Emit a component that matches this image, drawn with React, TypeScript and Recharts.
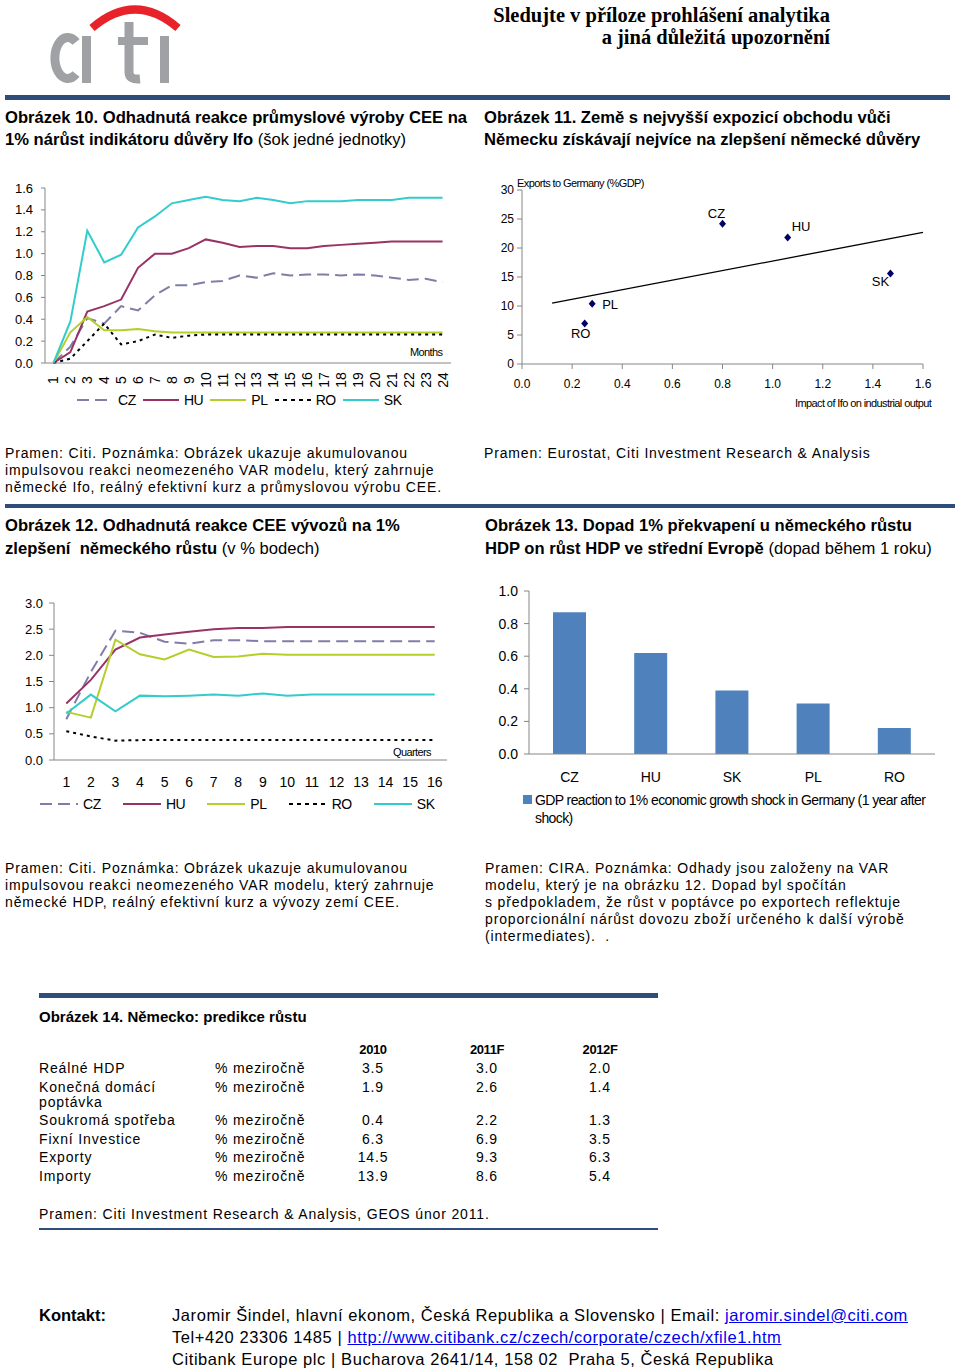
import React from 'react';
import { LineChart, Line, XAxis, YAxis, ScatterChart, Scatter, BarChart, Bar } from 'recharts';

const FONT = '"Liberation Sans", Arial, sans-serif';
const AXIS = '#868686';
const RULE = '#2E4D7B';

// Obrázek 10 – months 1..24
const months = [1, 2, 3, 4, 5, 6, 7, 8, 9, 10, 11, 12, 13, 14, 15, 16, 17, 18, 19, 20, 21, 22, 23, 24];
const cz10 = [0, 0.15, 0.41, 0.36, 0.52, 0.48, 0.62, 0.71, 0.71, 0.74, 0.75, 0.8, 0.78, 0.82, 0.8, 0.81, 0.81, 0.8, 0.81, 0.8, 0.78, 0.76, 0.77, 0.74];
const hu10 = [0, 0.1, 0.47, 0.52, 0.58, 0.87, 1.0, 1.0, 1.05, 1.13, 1.1, 1.06, 1.07, 1.07, 1.05, 1.05, 1.07, 1.08, 1.09, 1.1, 1.11, 1.11, 1.11, 1.11];
const pl10 = [0, 0.28, 0.42, 0.3, 0.3, 0.31, 0.29, 0.28, 0.28, 0.28, 0.28, 0.28, 0.28, 0.28, 0.28, 0.28, 0.28, 0.28, 0.28, 0.28, 0.28, 0.28, 0.28, 0.28];
const ro10 = [0, 0.04, 0.2, 0.36, 0.17, 0.2, 0.26, 0.23, 0.25, 0.26, 0.26, 0.26, 0.26, 0.26, 0.26, 0.26, 0.26, 0.26, 0.26, 0.26, 0.26, 0.26, 0.26, 0.26];
const sk10 = [0, 0.38, 1.21, 0.92, 0.99, 1.24, 1.34, 1.46, 1.49, 1.52, 1.49, 1.48, 1.51, 1.49, 1.46, 1.48, 1.48, 1.48, 1.49, 1.49, 1.49, 1.51, 1.51, 1.51];
const yTicks10 = [0, 0.2, 0.4, 0.6, 0.8, 1.0, 1.2, 1.4, 1.6];

// Obrázek 11
const names11 = ['RO', 'PL', 'CZ', 'HU', 'SK'];
const ifo11 = [0.25, 0.28, 0.8, 1.06, 1.47];
const exports11 = [7.0, 10.4, 24.2, 21.8, 15.6];
const trendX11 = [0.12, 1.6];
const trendY11 = [10.5, 22.7];
const xTicks11 = [0, 0.2, 0.4, 0.6, 0.8, 1.0, 1.2, 1.4, 1.6];
const yTicks11 = [0, 5, 10, 15, 20, 25, 30];

// Obrázek 12 – quarters 1..16
const quarters = [1, 2, 3, 4, 5, 6, 7, 8, 9, 10, 11, 12, 13, 14, 15, 16];
const cz12 = [0.78, 1.68, 2.47, 2.43, 2.26, 2.22, 2.29, 2.29, 2.27, 2.27, 2.27, 2.27, 2.27, 2.27, 2.27, 2.27];
const hu12 = [1.08, 1.53, 2.11, 2.34, 2.4, 2.45, 2.5, 2.52, 2.52, 2.54, 2.54, 2.54, 2.54, 2.54, 2.54, 2.54];
const pl12 = [0.92, 0.81, 2.3, 2.02, 1.92, 2.11, 1.97, 1.98, 2.03, 2.01, 2.01, 2.01, 2.01, 2.01, 2.01, 2.01];
const ro12 = [0.55, 0.45, 0.37, 0.38, 0.38, 0.38, 0.38, 0.38, 0.38, 0.38, 0.38, 0.38, 0.38, 0.38, 0.38, 0.38];
const sk12 = [0.89, 1.25, 0.93, 1.23, 1.22, 1.23, 1.25, 1.23, 1.27, 1.23, 1.25, 1.25, 1.25, 1.25, 1.25, 1.25];
const yTicks12 = [0, 0.5, 1.0, 1.5, 2.0, 2.5, 3.0];

// Obrázek 13
const countries13 = ['CZ', 'HU', 'SK', 'PL', 'RO'];
const gdp13 = [0.87, 0.62, 0.39, 0.31, 0.16];
const yTicks13 = [0, 0.2, 0.4, 0.6, 0.8, 1.0];

// Obrázek 14
const tableYears = ['2010', '2011F', '2012F'];
const tableRows = ['Reálné HDP', 'Konečná domácí poptávka', 'Soukromá spotřeba', 'Fixní Investice', 'Exporty', 'Importy'];
const tableUnit = '% meziročně';
const table2010 = ['3.5', '1.9', '0.4', '6.3', '14.5', '13.9'];
const table2011 = ['3.0', '2.6', '2.2', '6.9', '9.3', '8.6'];
const table2012 = ['2.0', '1.4', '1.3', '3.5', '6.3', '5.4'];

const legendKeys = ['CZ', 'HU', 'PL', 'RO', 'SK'];
const lineStyle: Record<string, { color: string; dash?: string }> = {
  CZ: { color: '#7E7EA8', dash: '12 6' },
  HU: { color: '#993366' },
  PL: { color: '#B4CE2C' },
  RO: { color: '#000000', dash: '3 4' },
  SK: { color: '#33CCCC' },
};

const labelPos11: Record<string, { dx: number; dy: number; anchor: 'start' | 'middle' | 'end' }> = {
  RO: { dx: -4, dy: 15, anchor: 'middle' },
  PL: { dx: 10, dy: 5, anchor: 'start' },
  CZ: { dx: -6, dy: -6, anchor: 'middle' },
  HU: { dx: 4, dy: -7, anchor: 'start' },
  SK: { dx: -10, dy: 12, anchor: 'middle' },
};

const data10 = months.map((m, i) => ({ m, CZ: cz10[i], HU: hu10[i], PL: pl10[i], RO: ro10[i], SK: sk10[i] }));
const data12 = quarters.map((q, i) => ({ q, CZ: cz12[i], HU: hu12[i], PL: pl12[i], RO: ro12[i], SK: sk12[i] }));
const points11 = names11.map((name, i) => ({ name, x: ifo11[i], y: exports11[i] }));
const trend11 = trendX11.map((x, i) => ({ x, y: trendY11[i] }));
const data13 = countries13.map((name, i) => ({ name, v: gdp13[i] }));
const grid10 = [0.5, ...months.map((m) => m + 0.5)];
const grid12 = [0.5, ...quarters.map((q) => q + 0.5)];
const grid13 = [0, ...countries13.map((_, i) => i + 1)];

function T({ x, y, size = 14, bold = false, right, ls, children, style }: any) {
  const lh = Math.round(size * 1.2);
  const pos: any = right !== undefined ? { right: 960 - right } : { left: x };
  return (
    <div
      style={{
        position: 'absolute',
        top: y - lh / 2,
        ...pos,
        fontSize: size,
        lineHeight: `${lh}px`,
        fontWeight: bold ? 700 : 400,
        whiteSpace: 'nowrap',
        letterSpacing: ls,
        ...style,
      }}
    >
      {children}
    </div>
  );
}

function Rule({ x, y, w, h, color = RULE }: any) {
  return <div style={{ position: 'absolute', left: x, top: y, width: w, height: h, background: color }} />;
}

function LineLegend({ left, top, gap, lineW }: any) {
  return (
    <div style={{ position: 'absolute', left, top, display: 'flex', alignItems: 'center', gap, fontSize: 14, letterSpacing: -0.4 }}>
      {legendKeys.map((k) => (
        <div key={k} style={{ display: 'flex', alignItems: 'center' }}>
          <svg width={lineW} height={6}>
            <line x1={0} y1={3} x2={lineW} y2={3} stroke={lineStyle[k].color} strokeWidth={2} strokeDasharray={k === 'RO' ? '4 4' : lineStyle[k].dash} />
          </svg>
          <span style={{ marginLeft: 5 }}>{k}</span>
        </div>
      ))}
    </div>
  );
}

function RotTick(props: any) {
  const { x, y, payload } = props;
  const px = x + 5;
  const py = y + 11;
  return (
    <text x={px} y={py} transform={`rotate(-90 ${px} ${py})`} textAnchor="middle" fontSize={14} fill="#000" fontFamily={FONT}>
      {payload.value}
    </text>
  );
}

function Diamond(props: any) {
  const { cx, cy, payload } = props;
  const o = labelPos11[payload.name];
  return (
    <g>
      <path d={`M${cx},${cy - 4}L${cx + 3.5},${cy}L${cx},${cy + 4}L${cx - 3.5},${cy}Z`} fill="#000066" />
      <text x={cx + o.dx} y={cy + o.dy} textAnchor={o.anchor} fontSize={13} fill="#000" fontFamily={FONT}>
        {payload.name}
      </text>
    </g>
  );
}

const tickFont = { fontSize: 13, fill: '#000', fontFamily: FONT };

function Chart10() {
  return (
    <div style={{ position: 'absolute', left: 0, top: 175 }}>
      <LineChart width={470} height={230} data={data10} margin={{ top: 13, right: 19, left: 0, bottom: 0 }}>
        <XAxis xAxisId="g" type="number" domain={[0.5, 24.5]} ticks={grid10} tick={false} axisLine={false} tickLine={{ stroke: AXIS }} tickSize={5} height={0} />
        <XAxis xAxisId="l" dataKey="m" type="number" domain={[0.5, 24.5]} ticks={months} interval={0} tickLine={false} tickSize={4} tickMargin={2} tick={<RotTick />} height={42} axisLine={{ stroke: AXIS }} />
        <YAxis width={45} domain={[0, 1.6]} ticks={yTicks10} tickFormatter={(v: number) => v.toFixed(1)} tickSize={4} tickMargin={8} tick={tickFont} axisLine={{ stroke: AXIS }} tickLine={{ stroke: AXIS }} />
        {legendKeys.map((k) => (
          <Line key={k} xAxisId="l" dataKey={k} type="linear" stroke={lineStyle[k].color} strokeWidth={2} strokeDasharray={lineStyle[k].dash} dot={false} isAnimationActive={false} />
        ))}
      </LineChart>
    </div>
  );
}

function Chart11() {
  return (
    <div style={{ position: 'absolute', left: 470, top: 175 }}>
      <ScatterChart width={480} height={225} margin={{ top: 15, right: 27, left: 0, bottom: 5 }}>
        <XAxis dataKey="x" type="number" domain={[0, 1.6]} ticks={xTicks11} tickFormatter={(v: number) => v.toFixed(1)} tickSize={5} tickMargin={10} height={31} tick={{ ...tickFont, fontSize: 12 }} axisLine={{ stroke: AXIS }} tickLine={{ stroke: AXIS }} />
        <YAxis dataKey="y" type="number" width={52} domain={[0, 30]} ticks={yTicks11} tickSize={5} tickMargin={3} tick={{ ...tickFont, fontSize: 12 }} axisLine={{ stroke: AXIS }} tickLine={{ stroke: AXIS }} />
        <Scatter data={trend11} line={{ stroke: '#000', strokeWidth: 1.3 }} shape={() => <g />} isAnimationActive={false} />
        <Scatter data={points11} shape={<Diamond />} isAnimationActive={false} />
      </ScatterChart>
    </div>
  );
}

function Chart12() {
  return (
    <div style={{ position: 'absolute', left: 0, top: 590 }}>
      <LineChart width={460} height={207} data={data12} margin={{ top: 13, right: 13, left: 0, bottom: 12 }}>
        <XAxis xAxisId="g" type="number" domain={[0.5, 16.5]} ticks={grid12} tick={false} axisLine={false} tickLine={{ stroke: AXIS }} tickSize={6} height={0} />
        <XAxis xAxisId="l" dataKey="q" type="number" domain={[0.5, 16.5]} ticks={quarters} interval={0} tickLine={false} tickSize={6} tickMargin={11} tick={{ ...tickFont, fontSize: 14 }} height={25} axisLine={{ stroke: AXIS }} />
        <YAxis width={54} domain={[0, 3]} ticks={yTicks12} tickFormatter={(v: number) => v.toFixed(1)} tickSize={5} tickMargin={6} tick={tickFont} axisLine={{ stroke: AXIS }} tickLine={{ stroke: AXIS }} />
        {legendKeys.map((k) => (
          <Line key={k} xAxisId="l" dataKey={k} type="linear" stroke={lineStyle[k].color} strokeWidth={2} strokeDasharray={lineStyle[k].dash} dot={false} isAnimationActive={false} />
        ))}
      </LineChart>
    </div>
  );
}

function Chart13() {
  return (
    <div style={{ position: 'absolute', left: 470, top: 580 }}>
      <BarChart width={480} height={210} data={data13} margin={{ top: 11, right: 15, left: 0, bottom: 10 }}>
        <XAxis xAxisId="g" type="number" domain={[0, countries13.length]} allowDataOverflow ticks={grid13} tick={false} axisLine={false} tickLine={{ stroke: AXIS }} tickSize={6} height={0} />
        <XAxis xAxisId="c" dataKey="name" tickLine={false} tickSize={6} tickMargin={12} height={26} tick={{ ...tickFont, fontSize: 14 }} axisLine={{ stroke: AXIS }} />
        <YAxis width={59} domain={[0, 1]} ticks={yTicks13} tickFormatter={(v: number) => v.toFixed(1)} tickSize={5} tickMargin={6} tick={{ ...tickFont, fontSize: 14 }} axisLine={{ stroke: AXIS }} tickLine={{ stroke: AXIS }} />
        <Bar xAxisId="c" dataKey="v" fill="#4F81BD" barSize={33} isAnimationActive={false} />
      </BarChart>
    </div>
  );
}

function CitiLogo() {
  const grey = '#9FA1A4';
  return (
    <svg style={{ position: 'absolute', left: 0, top: 0 }} width={200} height={95}>
      <path d="M76,42 A13,20.5 0 1 0 76,74" fill="none" stroke={grey} strokeWidth={9} />
      <rect x={82} y={36} width={9} height={47} fill={grey} />
      <path d="M129,22 L129,72 Q129,80 140,79" fill="none" stroke={grey} strokeWidth={9} />
      <rect x={118} y={37} width={30} height={8} fill={grey} />
      <rect x={160} y={36} width={9} height={47} fill={grey} />
      <path d="M92,28 Q135,-9 178,28" fill="none" stroke="#E8222A" strokeWidth={8} />
    </svg>
  );
}

export default function App() {
  const body = { size: 14, ls: 0.85 };
  const tblY = [1068, 1087, 1120, 1139, 1157, 1176];
  const colX = [373, 487, 600];
  const link = { color: '#0000EE', textDecoration: 'underline' };
  return (
    <div style={{ position: 'absolute', left: 0, top: 0, width: 960, height: 1372, background: '#fff', fontFamily: FONT, color: '#000', overflow: 'hidden' }}>
      <CitiLogo />
      <T right={830} y={15} size={20.5} bold style={{ fontFamily: '"Liberation Serif", serif' }}>Sledujte v příloze prohlášení analytika</T>
      <T right={830} y={37} size={20.5} bold style={{ fontFamily: '"Liberation Serif", serif' }}>a jiná důležitá upozornění</T>
      <Rule x={5} y={95} w={945} h={5} />

      <T x={5} y={118} size={16.6} bold>Obrázek 10. Odhadnutá reakce průmyslové výroby CEE na</T>
      <T x={5} y={140} size={16.6}><b>1% nárůst indikátoru důvěry Ifo</b> (šok jedné jednotky)</T>
      <T x={484} y={118} size={16.6} bold>Obrázek 11. Země s nejvyšší expozicí obchodu vůči</T>
      <T x={484} y={140} size={16.6} bold>Německu získávají nejvíce na zlepšení německé důvěry</T>

      <Chart10 />
      <T x={410} y={352} size={11} ls={-0.6}>Months</T>
      <LineLegend left={77} top={392} gap={7} lineW={36} />

      <Chart11 />
      <T x={517} y={183} size={11} ls={-0.6}>Exports to Germany (%GDP)</T>
      <T x={795} y={403} size={11} ls={-0.6}>Impact of Ifo on industrial output</T>

      <T x={5} y={453} {...body}>Pramen: Citi. Poznámka: Obrázek ukazuje akumulovanou</T>
      <T x={5} y={470} {...body}>impulsovou reakci neomezeného VAR modelu, který zahrnuje</T>
      <T x={5} y={487} {...body}>německé Ifo, reálný efektivní kurz a průmyslovou výrobu CEE.</T>
      <T x={484} y={453} {...body}>Pramen: Eurostat, Citi Investment Research &amp; Analysis</T>
      <Rule x={5} y={504} w={950} h={4} />

      <T x={5} y={526} size={16.6} bold>Obrázek 12. Odhadnutá reakce CEE vývozů na 1%</T>
      <T x={5} y={549} size={16.6}><b>zlepšení&nbsp; německého růstu</b> (v % bodech)</T>
      <T x={485} y={526} size={16.6} bold>Obrázek 13. Dopad 1% překvapení u německého růstu</T>
      <T x={485} y={549} size={16.6}><b>HDP on růst HDP ve střední Evropě</b> (dopad během 1 roku)</T>

      <Chart12 />
      <T x={393} y={752} size={11} ls={-0.6}>Quarters</T>
      <LineLegend left={40} top={796} gap={22} lineW={38} />

      <Chart13 />
      <div style={{ position: 'absolute', left: 523, top: 795, width: 9, height: 9, background: '#4F81BD' }} />
      <T x={535} y={800} size={14} ls={-0.6}>GDP reaction to 1% economic growth shock in Germany (1 year after</T>
      <T x={535} y={818} size={14} ls={-0.6}>shock)</T>

      <T x={5} y={868} {...body}>Pramen: Citi. Poznámka: Obrázek ukazuje akumulovanou</T>
      <T x={5} y={885} {...body}>impulsovou reakci neomezeného VAR modelu, který zahrnuje</T>
      <T x={5} y={902} {...body}>německé HDP, reálný efektivní kurz a vývozy zemí CEE.</T>
      <T x={485} y={868} {...body}>Pramen: CIRA. Poznámka: Odhady jsou založeny na VAR</T>
      <T x={485} y={885} {...body}>modelu, který je na obrázku 12. Dopad byl spočítán</T>
      <T x={485} y={902} {...body}>s předpokladem, že růst v poptávce po exportech reflektuje</T>
      <T x={485} y={919} {...body}>proporcionální nárůst dovozu zboží určeného k další výrobě</T>
      <T x={485} y={936} {...body}>(intermediates).&nbsp; .</T>

      <Rule x={39} y={993} w={619} h={5} />
      <T x={39} y={1017} size={15} bold>Obrázek 14. Německo: predikce růstu</T>
      {tableYears.map((yr, i) => (
        <T key={yr} x={colX[i] - 30} y={1050} size={13} bold ls={-0.4} style={{ width: 60, textAlign: 'center' }}>{yr}</T>
      ))}
      {tableRows.map((r, i) => (
        <React.Fragment key={r}>
          {r === 'Konečná domácí poptávka' ? (
            <>
              <T x={39} y={tblY[i]} {...body}>Konečná domácí</T>
              <T x={39} y={1102} {...body}>poptávka</T>
            </>
          ) : (
            <T x={39} y={tblY[i]} {...body}>{r}</T>
          )}
          <T x={215} y={tblY[i]} {...body}>{tableUnit}</T>
          {[table2010[i], table2011[i], table2012[i]].map((v, j) => (
            <T key={j} x={colX[j] - 30} y={tblY[i]} {...body} style={{ width: 60, textAlign: 'center' }}>{v}</T>
          ))}
        </React.Fragment>
      ))}
      <T x={39} y={1214} {...body}>Pramen: Citi Investment Research &amp; Analysis, GEOS únor 2011.</T>
      <Rule x={39} y={1228} w={619} h={2} />

      <T x={39} y={1315} size={16.5} bold>Kontakt:</T>
      <T x={172} y={1315} size={16.5} ls={0.57}>
        Jaromir Šindel, hlavní ekonom, Česká Republika a Slovensko | Email: <span style={link}>jaromir.sindel@citi.com</span>
      </T>
      <T x={172} y={1337} size={16.5} ls={0.57}>
        Tel+420 23306 1485 | <span style={link}>http://www.citibank.cz/czech/corporate/czech/xfile1.htm</span>
      </T>
      <T x={172} y={1359} size={16.5} ls={0.57}>Citibank Europe plc | Bucharova 2641/14, 158 02&nbsp; Praha 5, Česká Republika</T>
    </div>
  );
}
